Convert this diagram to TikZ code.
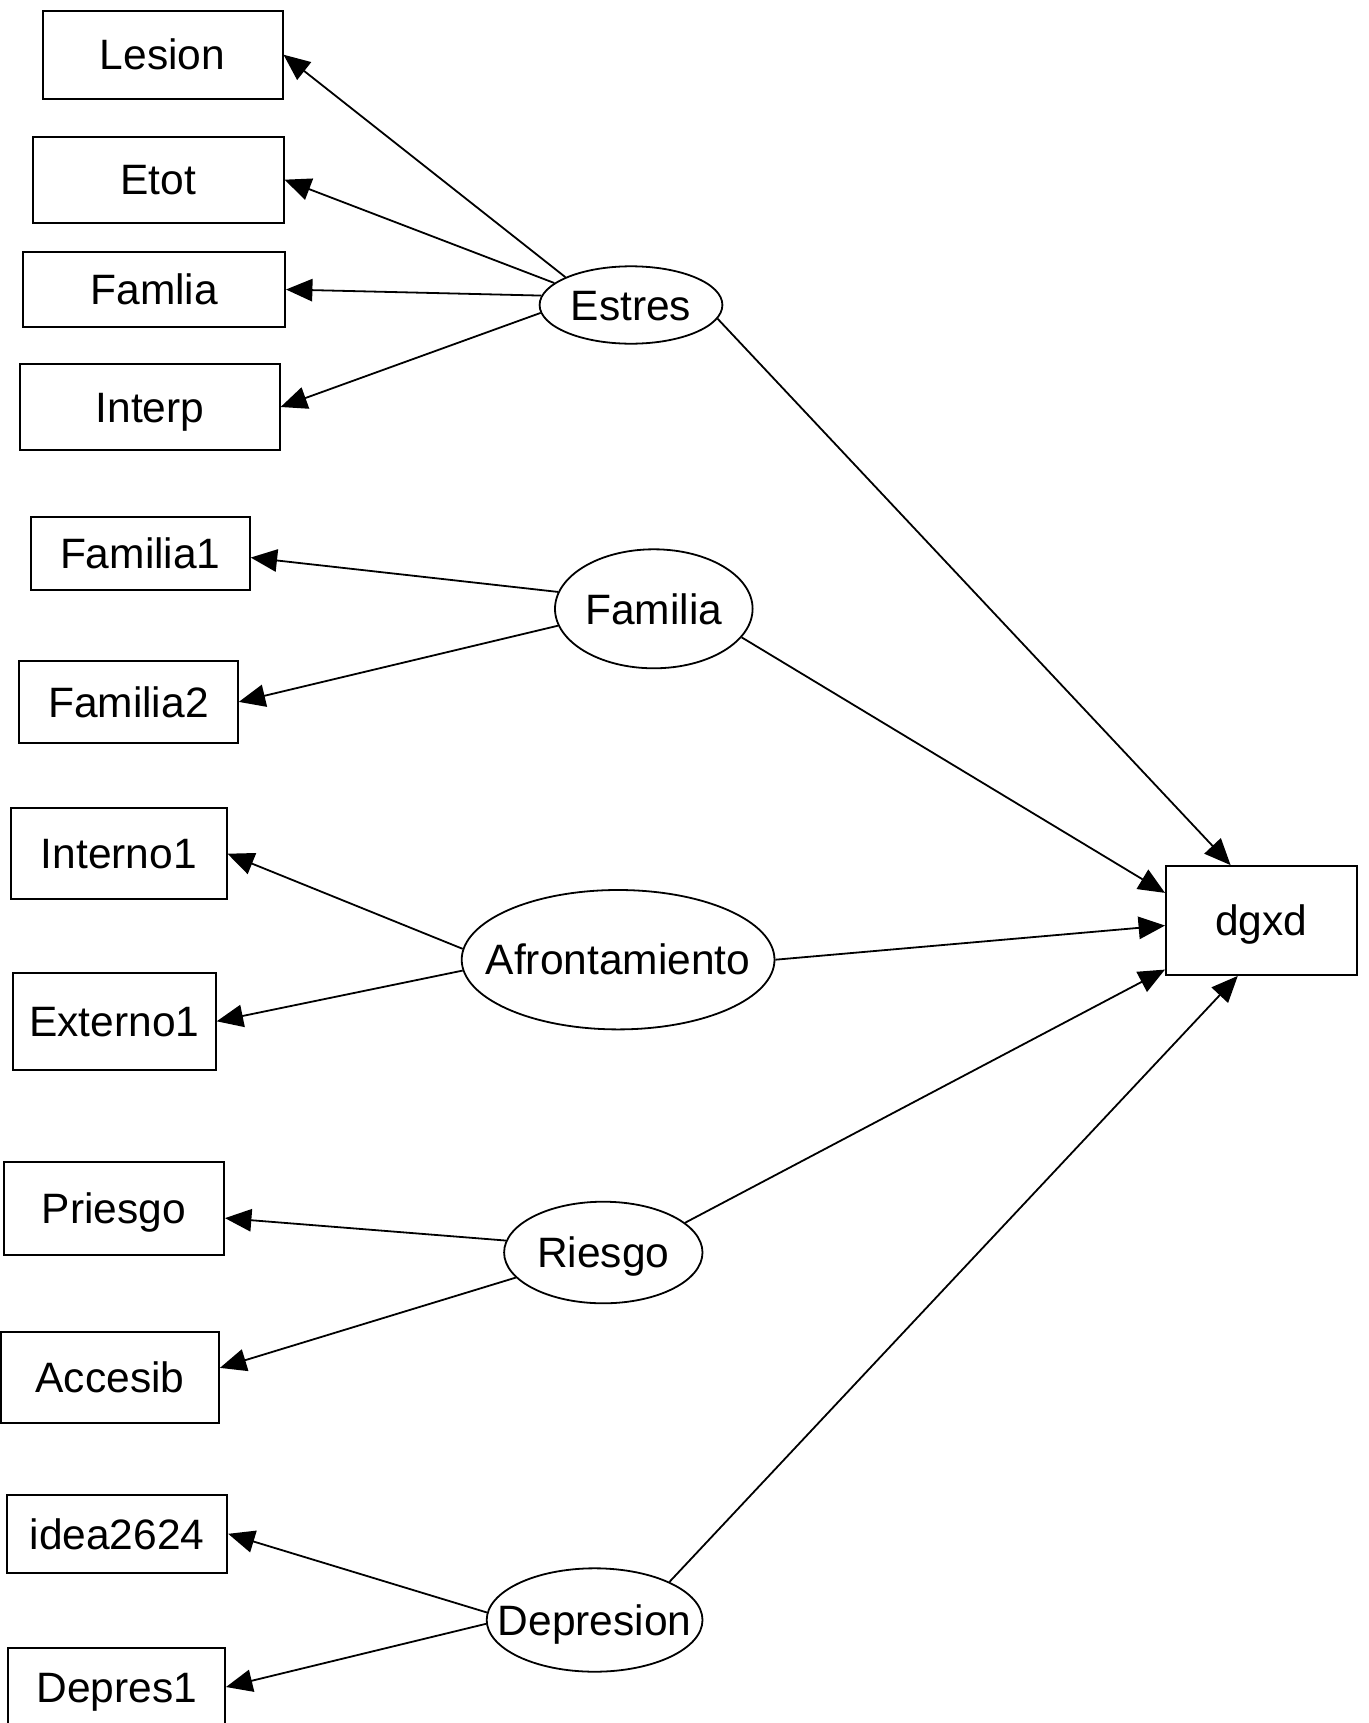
\documentclass[tikz,border=0pt]{standalone}
\usepackage{fontspec}
\setmainfont{Liberation Sans}
\usetikzlibrary{shapes.geometric,arrows.meta}
\tikzset{
  every node/.style={font=\fontsize{21.25pt}{25pt}\selectfont, inner sep=0pt, text height=15.2pt, text depth=0pt},
  obsbox/.style={draw, rectangle, line width=0.9pt},
  latent/.style={draw, ellipse, line width=0.9pt},
  effect/.style={-{Triangle[length=13.2pt,width=11.2pt]}, line width=0.9pt}
}
\begin{document}
\begin{tikzpicture}[x=0.5pt,y=-0.5pt]
\fill[white] (0,0) rectangle (1369,1723);
\useasboundingbox (0,0) rectangle (1369,1723);
% observed
\node[obsbox, minimum width=120pt, minimum height=44pt] (Lesion) at (162.6,54.7) {Lesion};
\node[obsbox, minimum width=125.3pt, minimum height=43pt] (Etot) at (158.3,179.7) {Etot};
\node[obsbox, minimum width=130.9pt, minimum height=37.8pt] (Famlia) at (154.2,289.5) {Famlia};
\node[obsbox, minimum width=129.7pt, minimum height=43pt] (Interp) at (150,407) {Interp};
\node[obsbox, minimum width=109.5pt, minimum height=36.4pt] (Familia1) at (140.3,553.7) {Familia1};
\node[obsbox, minimum width=109.5pt, minimum height=40.9pt] (Familia2) at (128.4,701.9) {Familia2};
\node[obsbox, minimum width=107.7pt, minimum height=45.4pt] (Interno1) at (118.9,853.7) {Interno1};
\node[obsbox, minimum width=101.5pt, minimum height=48.7pt] (Externo1) at (114.3,1021.3) {Externo1};
\node[obsbox, minimum width=110.2pt, minimum height=46.7pt] (Priesgo) at (113.9,1208.4) {Priesgo};
\node[obsbox, minimum width=109pt, minimum height=45.8pt] (Accesib) at (110,1377.5) {Accesib};
\node[obsbox, minimum width=110.2pt, minimum height=38.9pt] (idea2624) at (117.1,1533.8) {idea2624};
\node[obsbox, minimum width=108.4pt, minimum height=39pt] (Depres1) at (116.7,1687) {Depres1};
\node[obsbox, minimum width=95.4pt, minimum height=54.5pt] (dgxd) at (1261.3,920.5) {dgxd};
% latent
\node[latent, minimum width=91.4pt, minimum height=38.7pt] (Estres) at (631,305) {\makebox[0pt]{Estres}};
\node[latent, minimum width=98.8pt, minimum height=59.5pt] (Familia) at (653.8,608.8) {\makebox[0pt]{Familia}};
\node[latent, minimum width=156.4pt, minimum height=69.7pt] (Afront) at (618.1,959.7) {\makebox[0pt]{Afrontamiento}};
\node[latent, minimum width=99.2pt, minimum height=50.8pt] (Riesgo) at (603.3,1252.5) {\makebox[0pt]{Riesgo}};
\node[latent, minimum width=107.9pt, minimum height=51.7pt] (Depresion) at (594.6,1620) {\makebox[0pt]{Depresion}};
% loadings
\draw[effect] (Estres.157.6) -- (Lesion.east);
\draw[effect] (Estres.164.1) -- (Etot.east);
\draw[effect] (Estres.174.1) -- (Famlia.east);
\draw[effect] (Estres.185.3) -- (Interp.east);
\draw[effect] (Familia.170) -- (Familia1.-2);
\draw[effect] (Familia.190.6) -- (Familia2.east);
\draw[effect] (Afront.176.8) -- (Interno1.east);
\draw[effect] (Afront.184.4) -- (Externo1.east);
\draw[effect] (Riesgo.173.2) -- (Priesgo.-5.7);
\draw[effect] (Riesgo.196.9) -- (Accesib.5);
\draw[effect] (Depresion.176.4) -- (idea2624.east);
\draw[effect] (Depresion.182.3) -- (Depres1.east);
% structural paths
\draw[effect] (Estres.351.4) -- (dgxd.119.9);
\draw[effect] (Familia.342) -- (dgxd.164.2);
\draw[effect] (Afront.east) -- (dgxd.183.7);
\draw[effect] (Riesgo.20.9) -- (dgxd.207.2);
\draw[effect] (Depresion.27.6) -- (dgxd.247.1);
\end{tikzpicture}
\end{document}
